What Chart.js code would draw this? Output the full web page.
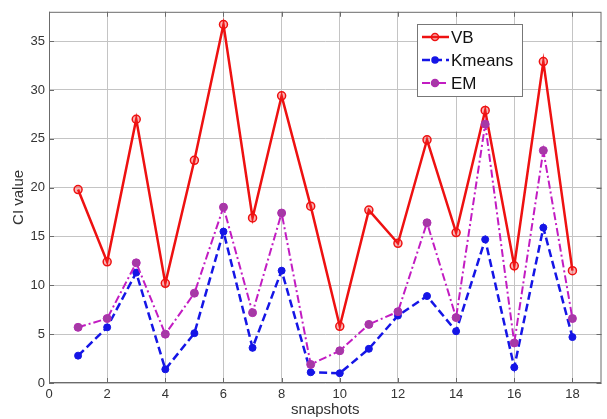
<!DOCTYPE html>
<html>
<head>
<meta charset="utf-8">
<script src="https://cdn.jsdelivr.net/npm/chart.js@4.4.1/dist/chart.umd.min.js"></script>
<style>
  html, body { margin: 0; padding: 0; background: #fff; }
  #wrap { width: 607px; height: 419px; }
</style>
</head>
<body>
<div id="wrap"><canvas id="ciChart" width="607" height="419"></canvas></div>
<script>
const snapshots = [1, 2, 3, 4, 5, 6, 7, 8, 9, 10, 11, 12, 13, 14, 15, 16, 17, 18];
const vbValues = [19.8, 12.4, 27.0, 10.2, 22.8, 36.7, 16.9, 29.4, 18.1, 5.8, 17.7, 14.3, 24.9, 15.4, 27.9, 12.0, 32.9, 11.5];
const kmeansValues = [2.8, 5.7, 11.3, 1.4, 5.1, 15.5, 3.6, 11.5, 1.1, 1.0, 3.5, 6.9, 8.9, 5.3, 14.7, 1.6, 15.9, 4.7];
const emValues = [5.7, 6.6, 12.3, 5.0, 9.2, 18.0, 7.2, 17.4, 1.9, 3.3, 6.0, 7.3, 16.4, 6.7, 26.5, 4.1, 23.8, 6.6];
const xTicks = [0, 2, 4, 6, 8, 10, 12, 14, 16, 18];
const yTicks = [0, 5, 10, 15, 20, 25, 30, 35];

const toPoints = vals => vals.map((v, i) => ({ x: snapshots[i], y: v }));

const fontFam = '"Liberation Sans", Arial, sans-serif';

// frame + inward ticks, matlab style
const framePlugin = {
  id: 'frame',
  afterDraw(chart) {
    const { ctx, chartArea: a, scales } = chart;
    ctx.save();
    ctx.strokeStyle = '#6b6b6b';
    ctx.lineWidth = 1;
    ctx.strokeRect(a.left + 0.5, a.top + 0.5, a.right - a.left - 1, a.bottom - a.top - 1);
    ctx.beginPath();
    xTicks.forEach(t => {
      const px = Math.round(scales.x.getPixelForValue(t)) + 0.5;
      ctx.moveTo(px, a.bottom); ctx.lineTo(px, a.bottom - 5);
      ctx.moveTo(px, a.top); ctx.lineTo(px, a.top + 5);
    });
    yTicks.forEach(t => {
      const py = Math.round(scales.y.getPixelForValue(t)) + 0.5;
      ctx.moveTo(a.left, py); ctx.lineTo(a.left + 5, py);
      ctx.moveTo(a.right, py); ctx.lineTo(a.right - 5, py);
    });
    ctx.stroke();
    ctx.restore();
  }
};

// legend box inside the axes
const boxLegend = {
  id: 'boxLegend',
  afterDraw(chart) {
    const { ctx } = chart;
    const x0 = 417, y0 = 24, w = 105, h = 72;
    ctx.save();
    ctx.fillStyle = '#fff';
    ctx.fillRect(x0, y0, w, h);
    ctx.strokeStyle = '#777';
    ctx.lineWidth = 1;
    ctx.strokeRect(x0 + 0.5, y0 + 0.5, w, h);
    chart.data.datasets.forEach((ds, i) => {
      const cy = y0 + 13 + i * 23;
      ctx.beginPath();
      ctx.strokeStyle = ds.borderColor;
      ctx.lineWidth = ds.borderWidth;
      ctx.setLineDash(ds.borderDash || []);
      ctx.moveTo(x0 + 5, cy);
      ctx.lineTo(x0 + 32, cy);
      ctx.stroke();
      ctx.setLineDash([]);
      ctx.beginPath();
      ctx.arc(x0 + 18, cy, ds.pointRadius - 0.5, 0, Math.PI * 2);
      ctx.fillStyle = ds.pointBackgroundColor;
      ctx.fill();
      ctx.lineWidth = 1.5;
      ctx.strokeStyle = ds.pointBorderColor;
      ctx.stroke();
      ctx.fillStyle = '#111';
      ctx.font = '17px ' + fontFam;
      ctx.textBaseline = 'middle';
      ctx.fillText(ds.label, x0 + 34, cy + 1);
    });
    ctx.restore();
  }
};

const ciData = {
  datasets: [
    {
      label: 'VB',
      data: toPoints(vbValues),
      borderColor: '#ee1111',
      borderWidth: 2.5,
      pointRadius: 4,
      pointBackgroundColor: 'rgba(240, 40, 40, 0.35)',
      pointBorderColor: '#ee1111',
      pointBorderWidth: 1.5,
      order: 3
    },
    {
      label: 'Kmeans',
      data: toPoints(kmeansValues),
      borderColor: '#1515e6',
      borderWidth: 2.5,
      borderDash: [8, 4],
      pointRadius: 3.5,
      pointBackgroundColor: '#1515e6',
      pointBorderColor: '#1515e6',
      pointBorderWidth: 1,
      order: 2
    },
    {
      label: 'EM',
      data: toPoints(emValues),
      borderColor: '#c21cc2',
      borderWidth: 2,
      borderDash: [8, 3, 2, 3],
      pointRadius: 4,
      pointBackgroundColor: '#a53aa5',
      pointBorderColor: '#b02cb0',
      pointBorderWidth: 1,
      order: 1
    }
  ]
};

const ciConfig = {
  type: 'line',
  data: ciData,
  options: {
    responsive: false,
    animation: false,
    layout: { padding: { top: 11, right: 1, left: 10, bottom: 0 } },
    plugins: {
      legend: { display: false },
      title: { display: false },
      tooltip: { enabled: false }
    },
    scales: {
      x: {
        type: 'linear',
        min: 0,
        max: 19,
        afterBuildTicks: axis => { axis.ticks = xTicks.map(v => ({ value: v })); },
        afterFit: axis => { axis.height = 36; },
        border: { display: false },
        grid: { color: '#c4c4c4', borderDash: [1, 2], tickLength: 0, drawTicks: false },
        ticks: { color: '#333', font: { size: 13, family: fontFam }, padding: 4, maxRotation: 0 },
        title: { display: true, text: 'snapshots', color: '#333', font: { size: 15, family: fontFam }, padding: { top: 3, bottom: 0 } }
      },
      y: {
        min: 0,
        max: 38,
        afterBuildTicks: axis => { axis.ticks = yTicks.map(v => ({ value: v })); },
        afterFit: axis => { axis.width = 39; },
        border: { display: false },
        grid: { color: '#c4c4c4', borderDash: [1, 2], drawTicks: false },
        ticks: { color: '#333', font: { size: 13, family: fontFam }, padding: 4 },
        title: { display: true, text: 'CI value', color: '#333', font: { size: 15, family: fontFam }, padding: { top: 0, bottom: 0 } }
      }
    }
  },
  plugins: [framePlugin, boxLegend]
};

const ciChart = new Chart(document.getElementById('ciChart').getContext('2d'), ciConfig);
</script>
</body>
</html>
